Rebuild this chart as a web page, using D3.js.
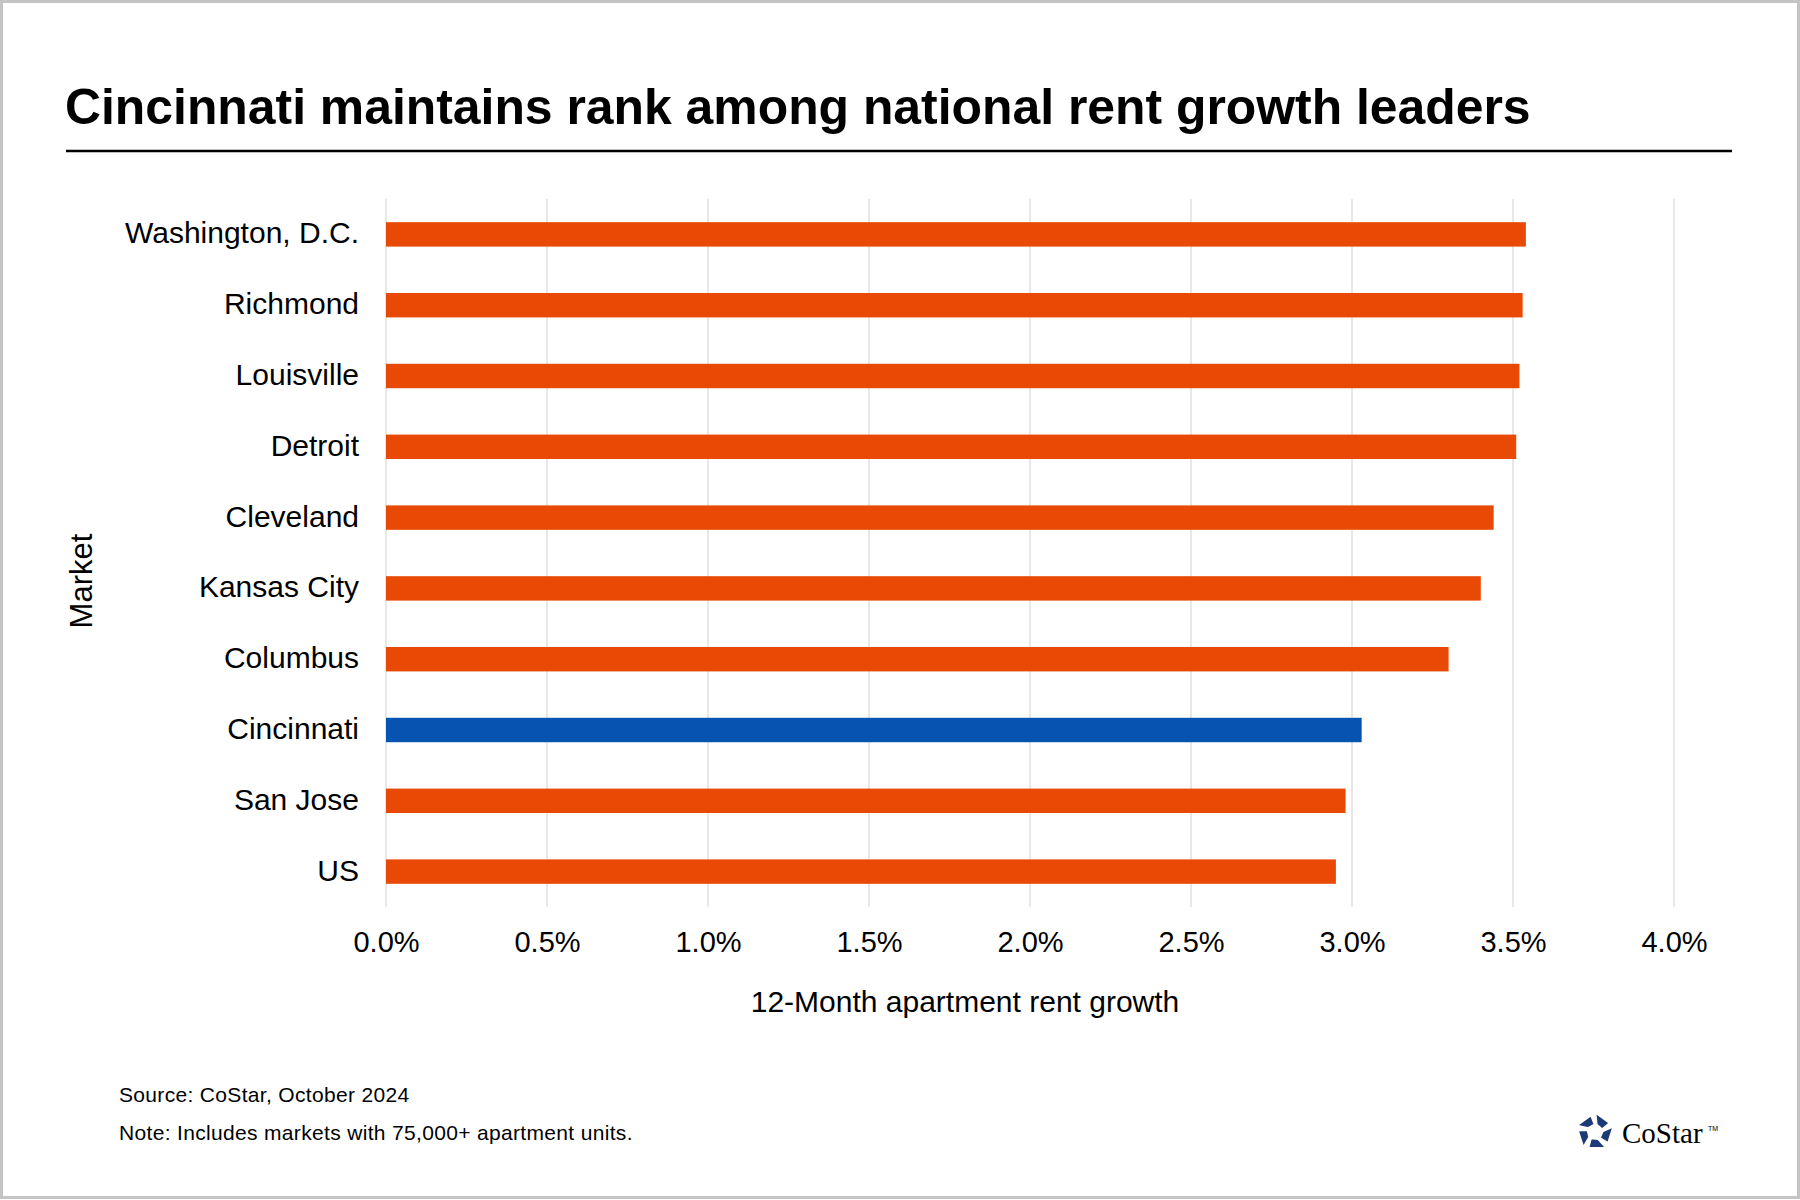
<!DOCTYPE html>
<html>
<head>
<meta charset="utf-8">
<script src="https://cdn.jsdelivr.net/npm/d3@7"></script>
<style>
  html, body { margin: 0; padding: 0; background: #ffffff; }
  svg { display: block; }
  text { font-family: "Liberation Sans", Arial, sans-serif; fill: #000; }
</style>
</head>
<body>
<svg id="chart" width="1800" height="1200"></svg>
<script>
// ---- Data ----
const markets = ["Washington, D.C.", "Richmond", "Louisville", "Detroit", "Cleveland",
                 "Kansas City", "Columbus", "Cincinnati", "San Jose", "US"];
const rentGrowth = [3.54, 3.53, 3.52, 3.51, 3.44, 3.40, 3.30, 3.03, 2.98, 2.95];
const xTickValues = [0, 0.5, 1.0, 1.5, 2.0, 2.5, 3.0, 3.5, 4.0];
const highlightMarket = "Cincinnati";

const titleText = "Cincinnati maintains rank among national rent growth leaders";
const xAxisTitle = "12-Month apartment rent growth";
const yAxisTitle = "Market";
const sourceText = "Source: CoStar, October 2024";
const noteText = "Note: Includes markets with 75,000+ apartment units.";

const data = markets.map((m, i) => ({ market: m, value: rentGrowth[i] }));

// ---- Layout ----
const W = 1800, H = 1200;
const plot = { left: 386, right: 1674, top: 199, bottom: 907 };
const ORANGE = "#e84a05", BLUE = "#0753b2", NAVY = "#1d3a78";

const svg = d3.select("#chart");

// frame
svg.append("rect").attr("x", 1.5).attr("y", 1.5).attr("width", W - 3).attr("height", H - 4)
  .attr("fill", "#fff").attr("stroke", "#c4c4c4").attr("stroke-width", 3);

// title
const title = svg.append("text").attr("x", 65).attr("y", 124)
  .attr("font-weight", "bold").attr("font-size", 44).text(titleText);
const tw = title.node().getComputedTextLength();
title.attr("font-size", 44 * 1466 / tw);

// rule
svg.append("line").attr("x1", 66).attr("x2", 1732).attr("y1", 151).attr("y2", 151)
  .attr("stroke", "#000").attr("stroke-width", 2.5);

// scales
const x = d3.scaleLinear().domain([0, 4]).range([plot.left, plot.right]);
const y = d3.scaleBand().domain(markets).range([plot.top, plot.bottom])
  .paddingInner(0.655).paddingOuter(0.3275);

// gridlines
svg.append("g").selectAll("line").data(xTickValues).join("line")
  .attr("x1", d => x(d)).attr("x2", d => x(d))
  .attr("y1", plot.top).attr("y2", plot.bottom)
  .attr("stroke", "#d9d9d9").attr("stroke-width", 1.2);

// bars
svg.append("g").selectAll("rect").data(data).join("rect")
  .attr("x", x(0))
  .attr("y", d => y(d.market))
  .attr("width", d => x(d.value) - x(0))
  .attr("height", y.bandwidth())
  .attr("fill", d => d.market === highlightMarket ? BLUE : ORANGE);

// x axis
const xAxis = svg.append("g").attr("transform", `translate(0,${plot.bottom})`)
  .call(d3.axisBottom(x).tickValues(xTickValues).tickSize(0).tickPadding(24)
    .tickFormat(d => d3.format(".1f")(d) + "%"));
xAxis.select(".domain").remove();
xAxis.selectAll("text").attr("font-size", 29).attr("font-family", "Liberation Sans, Arial, sans-serif").attr("fill", "#000");

// y axis
const yAxis = svg.append("g").attr("transform", `translate(${plot.left},0)`)
  .call(d3.axisLeft(y).tickSize(0).tickPadding(27));
yAxis.select(".domain").remove();
yAxis.selectAll("text").attr("font-size", 30).attr("dy", "0.3em")
  .attr("font-family", "Liberation Sans, Arial, sans-serif").attr("fill", "#000");

// axis titles
svg.append("text").attr("x", 965).attr("y", 1012).attr("text-anchor", "middle")
  .attr("font-size", 30).text(xAxisTitle);
svg.append("text").attr("transform", "translate(92,581) rotate(-90)")
  .attr("text-anchor", "middle").attr("font-size", 31).text(yAxisTitle);

// footnotes
svg.append("text").attr("x", 119).attr("y", 1102).attr("font-size", 21)
  .attr("letter-spacing", 0.33).attr("fill", "#222").text(sourceText);
svg.append("text").attr("x", 119).attr("y", 1140).attr("font-size", 21)
  .attr("letter-spacing", 0.33).attr("fill", "#222").text(noteText);

// logo
const logo = svg.append("g").attr("transform", "translate(1595,1132)");
const R = 20;
const pt = (deg, r) => [r * Math.cos(deg * Math.PI / 180), r * Math.sin(deg * Math.PI / 180)];
for (let i = 0; i < 5; i++) {
  const a = -90 + 72 * i;
  const V0 = pt(a, R), V1 = pt(a + 72, R);
  const B = [V0[0] + (V1[0] - V0[0]) * 0.8, V0[1] + (V1[1] - V0[1]) * 0.8];
  const C = pt(a + 72, 7.5);
  const D = pt(a + 10, 7.5);
  logo.append("polygon").attr("points", [V0, B, C, D].map(p => p.join(",")).join(" "))
    .attr("fill", NAVY).attr("stroke", "#fff").attr("stroke-width", 2.6).attr("stroke-linejoin", "miter");
}
svg.append("text").attr("x", 1622).attr("y", 1143)
  .style("font-family", "'Liberation Serif', 'Times New Roman', serif")
  .attr("font-size", 29).attr("fill", "#111").text("CoStar");
svg.append("text").attr("x", 1708).attr("y", 1131)
  .attr("font-size", 7).attr("fill", "#555").text("TM");
</script>
</body>
</html>
